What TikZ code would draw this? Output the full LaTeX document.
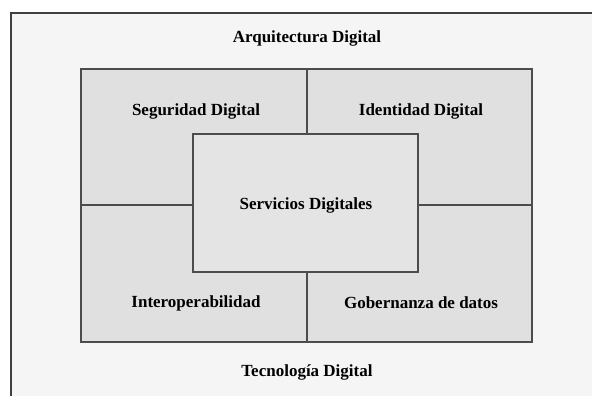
\documentclass[tikz,border=0pt]{standalone}
\usepackage{fontspec}
\setmainfont{Liberation Serif}
\tikzset{
  lbl/.style={font=\bfseries\fontsize{17}{19}\selectfont, text=black},
  frameline/.style={line width=1.3pt, draw=black!75},
  boxline/.style={line width=1.2pt, draw=black!70}
}
\begin{document}
\begin{tikzpicture}[x=1pt,y=-1pt]
\useasboundingbox (0,0) rectangle (592,396);
% outer frame
\fill[gray!8] (11,13) rectangle (592,396);
\draw[frameline] (11,396) -- (11,13) -- (592,13);
% inner block
\coordinate (ntl) at (81,69);
\coordinate (nbr) at (532,342);
\coordinate (ctl) at (193,134);
\coordinate (cbr) at (418,272);
\draw[boxline, fill=gray!24] (ntl) rectangle (nbr);
\draw[boxline] (307,69) -- (307,134);
\draw[boxline] (307,272) -- (307,342);
\draw[boxline] (81,205) -- (193,205);
\draw[boxline] (418,205) -- (532,205);
\draw[boxline, fill=gray!21] (ctl) rectangle (cbr);
% labels
\node[lbl] (arq) at (307,38) {Arquitectura Digital};
\node[lbl] (seg) at (196,111) {Seguridad Digital};
\node[lbl] (ide) at (421,111) {Identidad Digital};
\node[lbl] (ser) at (306,205) {Servicios Digitales};
\node[lbl] (int) at (196,303) {Interoperabilidad};
\node[lbl] (gob) at (421,303) {Gobernanza de datos};
\node[lbl] (tec) at (307,372) {Tecnología Digital};
\end{tikzpicture}
\end{document}
